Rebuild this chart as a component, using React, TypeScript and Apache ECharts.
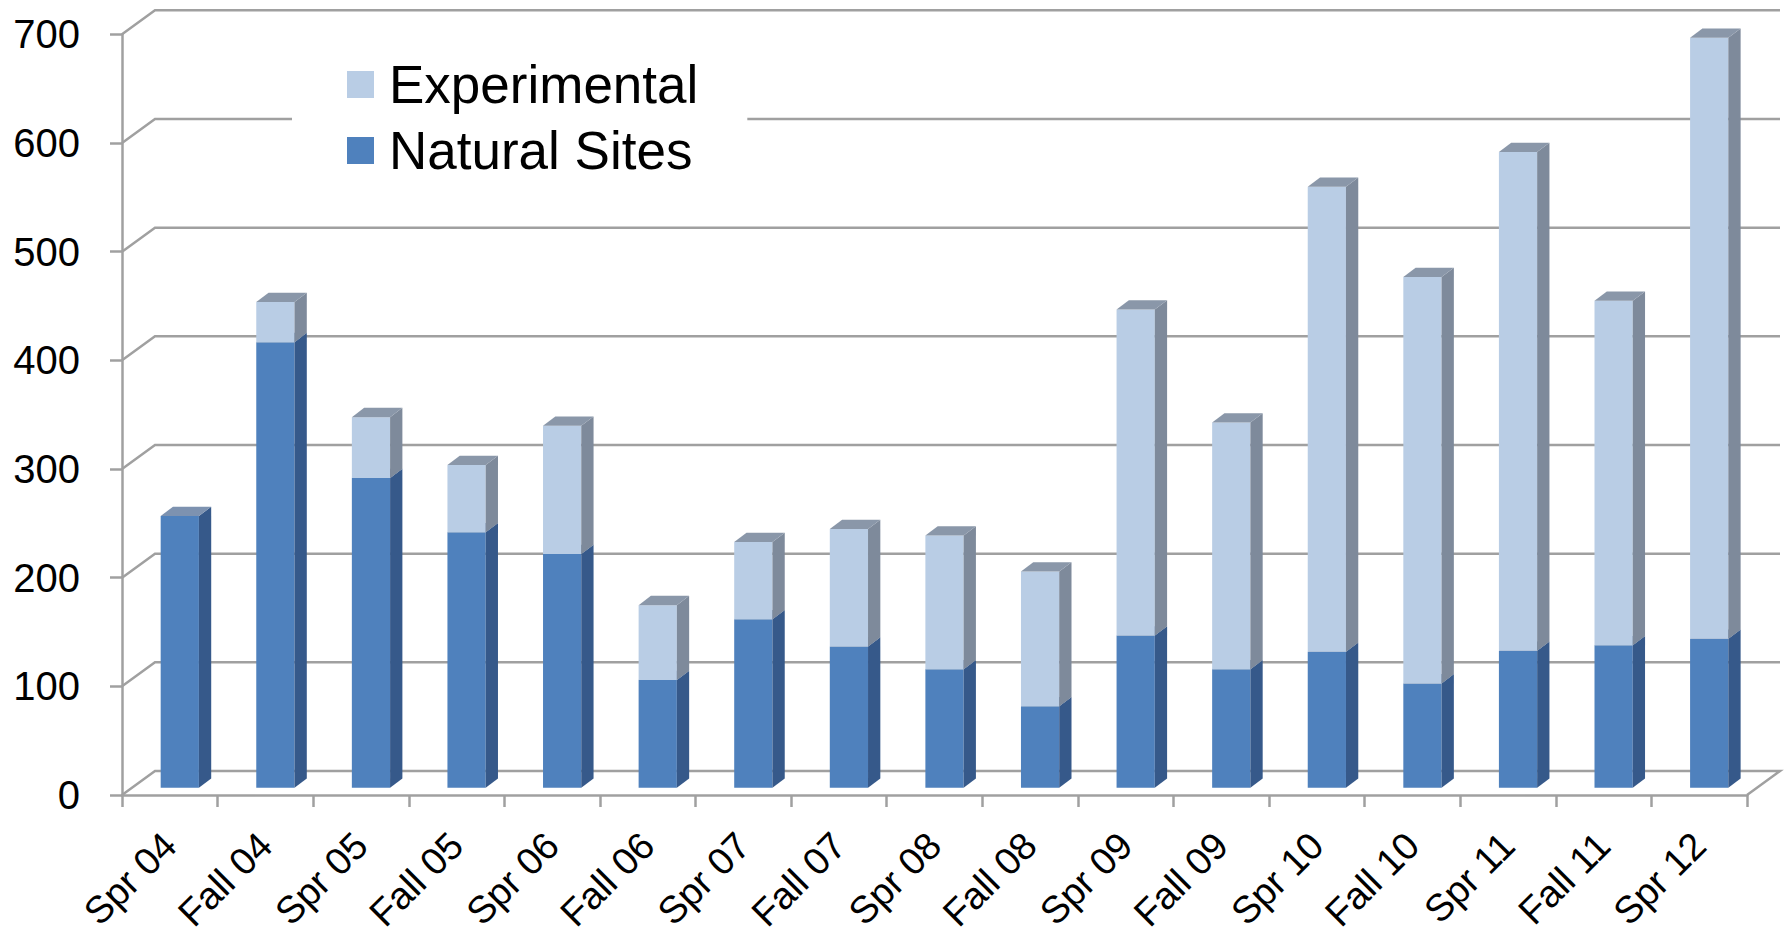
import React, { useEffect, useRef } from "react";
import * as echarts from "echarts";

const categories = [
  "Spr 04", "Fall 04", "Spr 05", "Fall 05", "Spr 06", "Fall 06", "Spr 07", "Fall 07", "Spr 08",
  "Fall 08", "Spr 09", "Fall 09", "Spr 10", "Fall 10", "Spr 11", "Fall 11", "Spr 12",
];
const naturalSites = [250, 410, 285, 235, 215, 99, 155, 130, 109, 75, 140, 109, 125, 96, 126, 131, 137];
const experimental = [0, 37, 56, 62, 118, 69, 71, 108, 123, 124, 300, 227, 428, 374, 459, 317, 553];
const yTicks = [0, 100, 200, 300, 400, 500, 600, 700];

const FONT = "'Liberation Sans', Arial, sans-serif";
const GRID_COLOR = "#a0a0a0";
const WALL_DX = 33;
const WALL_DY = -24;
const FRONT_DX = 10;
const FRONT_DY = -7.3;
const BAR_DX = 12.3;
const BAR_DY = -9.3;
const BAR_RATIO = 0.4;

const NATURAL_COLORS = { front: "#4F81BD", side: "#36598A", top: "#7D92B0" };
const EXP_COLORS = { front: "#B9CDE5", side: "#7E8A9B", top: "#8A97A9" };

function barRenderer(colors: { front: string; side: string; top: string }) {
  return (params: any, api: any) => {
    const idx = api.value(0);
    const base = api.value(1);
    const top = api.value(2);
    if (!(top > base)) return { type: "group", children: [] };
    const pb = api.coord([idx, base]);
    const pt = api.coord([idx, top]);
    const w = api.size([1, 0])[0] * BAR_RATIO;
    const xl = pb[0] - w / 2 + FRONT_DX;
    const xr = xl + w;
    const yb = pb[1] + FRONT_DY;
    const yt = pt[1] + FRONT_DY;
    return {
      type: "group",
      children: [
        {
          type: "polygon",
          shape: { points: [[xl, yb], [xr, yb], [xr, yt], [xl, yt]] },
          style: { fill: colors.front },
        },
        {
          type: "polygon",
          shape: {
            points: [[xr, yb], [xr + BAR_DX, yb + BAR_DY], [xr + BAR_DX, yt + BAR_DY], [xr, yt]],
          },
          style: { fill: colors.side },
        },
        {
          type: "polygon",
          shape: {
            points: [[xl, yt], [xr, yt], [xr + BAR_DX, yt + BAR_DY], [xl + BAR_DX, yt + BAR_DY]],
          },
          style: { fill: colors.top },
        },
      ],
    };
  };
}

export default function App() {
  const ref = useRef<HTMLDivElement>(null);
  useEffect(() => {
    if (!ref.current) return;
    const chart = echarts.init(ref.current, undefined, { renderer: "svg" });
    const naturalData = categories.map((_, i) => [i, 0, naturalSites[i]]);
    const expData = categories.map((_, i) => [i, naturalSites[i], naturalSites[i] + experimental[i]]);
    chart.setOption({
      animation: false,
      backgroundColor: "#ffffff",
      grid: { left: 122, right: 40, top: 34.3, bottom: 146, containLabel: false, outerBoundsMode: "none" },
      legend: {
        data: ["Experimental", "Natural Sites"],
        orient: "vertical",
        left: 292,
        top: 50,
        padding: [8, 49, 8, 55],
        backgroundColor: "#ffffff",
        itemWidth: 27,
        itemHeight: 27,
        itemGap: 13,
        icon: "rect",
        selectedMode: false,
        textStyle: { fontSize: 53, color: "#000", fontFamily: FONT, padding: [0, 0, 0, 10] },
      },
      xAxis: {
        type: "category",
        data: categories,
        axisLine: { show: true, lineStyle: { color: GRID_COLOR, width: 2.5 } },
        axisTick: { show: true, length: 12, interval: 0, alignWithLabel: false, lineStyle: { color: GRID_COLOR, width: 2.5 } },
        axisLabel: { interval: 0, rotate: 45, fontSize: 38, margin: 44, color: "#000", fontFamily: FONT },
        splitLine: { show: false },
      },
      yAxis: {
        type: "value",
        min: 0,
        max: 700,
        interval: 100,
        axisLine: { show: true, lineStyle: { color: GRID_COLOR, width: 2.5 } },
        axisTick: { show: true, length: 12, lineStyle: { color: GRID_COLOR, width: 2.5 } },
        axisLabel: { fontSize: 40, color: "#000", margin: 42, fontFamily: FONT },
        splitLine: { show: false },
      },
      series: [
        {
          name: "walls",
          type: "custom",
          silent: true,
          z: 1,
          data: yTicks.map((v) => [0, v]),
          encode: { x: 0, y: 1 },
          renderItem: (params: any, api: any) => {
            const v = api.value(1);
            const cs = params.coordSys;
            const y = api.coord([0, v])[1];
            const x0 = cs.x;
            const x1 = cs.x + cs.width;
            const pts =
              v === 0
                ? [[x0, y], [x0 + WALL_DX, y + WALL_DY], [x1 + WALL_DX, y + WALL_DY], [x1, y]]
                : [[x0, y], [x0 + WALL_DX, y + WALL_DY], [x1 + WALL_DX, y + WALL_DY]];
            return {
              type: "polyline",
              shape: { points: pts },
              style: { stroke: GRID_COLOR, lineWidth: 2.5, fill: null },
            };
          },
        },
        {
          name: "Natural Sites",
          type: "custom",
          z: 2,
          itemStyle: { color: NATURAL_COLORS.front },
          data: naturalData,
          encode: { x: 0, y: [1, 2] },
          renderItem: barRenderer(NATURAL_COLORS),
        },
        {
          name: "Experimental",
          type: "custom",
          z: 3,
          itemStyle: { color: EXP_COLORS.front },
          data: expData,
          encode: { x: 0, y: [1, 2] },
          renderItem: barRenderer(EXP_COLORS),
        },
      ],
    });
    return () => chart.dispose();
  }, []);
  return (
    <div
      ref={ref}
      style={{ position: "absolute", left: 0, top: 0, width: 1787, height: 941 }}
    />
  );
}
